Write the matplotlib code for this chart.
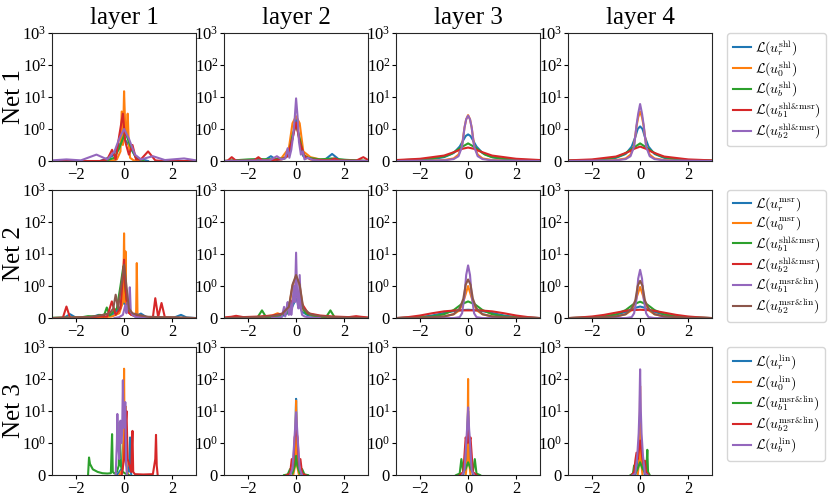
import matplotlib.pyplot as plt
from matplotlib.ticker import NullLocator

plt.rcParams['font.family'] = ['Liberation Serif', 'DejaVu Serif']
plt.rcParams['mathtext.fontset'] = 'cm'
plt.rcParams['axes.edgecolor'] = '0.15'

SM = r'\mathrm{shl&msr}'
ML = r'\mathrm{msr&lin}'

# legend labels per net
labels_net1 = [r'$\mathcal{L}(u_r^{\mathrm{shl}})$', r'$\mathcal{L}(u_0^{\mathrm{shl}})$',
               r'$\mathcal{L}(u_b^{\mathrm{shl}})$', r'$\mathcal{L}(u_{b1}^{' + SM + '})$',
               r'$\mathcal{L}(u_{b2}^{' + SM + '})$']
labels_net2 = [r'$\mathcal{L}(u_r^{\mathrm{msr}})$', r'$\mathcal{L}(u_0^{\mathrm{msr}})$',
               r'$\mathcal{L}(u_{b1}^{' + SM + '})$', r'$\mathcal{L}(u_{b2}^{' + SM + '})$',
               r'$\mathcal{L}(u_{b1}^{' + ML + '})$', r'$\mathcal{L}(u_{b2}^{' + ML + '})$']
labels_net3 = [r'$\mathcal{L}(u_r^{\mathrm{lin}})$', r'$\mathcal{L}(u_0^{\mathrm{lin}})$',
               r'$\mathcal{L}(u_{b1}^{' + ML + '})$', r'$\mathcal{L}(u_{b2}^{' + ML + '})$',
               r'$\mathcal{L}(u_b^{\mathrm{lin}})$']

# density curves: (x, y) per series, in legend order
net1_layer1 = [
    ([-1, -0.5, -0.2, 0, 0.2, 0.5, 1], [0, 0.15, 0.5, 0.7, 0.5, 0.1, 0]),
    ([-0.6, -0.3, -0.15, -0.1, -0.05, 0, 0.05, 0.1, 0.15, 0.2, 0.25, 0.4, 0.8],
     [0, 0.05, 0.3, 3.5, 0.5, 15, 1, 0.8, 3, 0.5, 0.1, 0.02, 0]),
    ([-0.8, -0.4, -0.2, 0.05, 0.3, 0.5, 0.8], [0, 0.1, 0.4, 0.9, 0.4, 0.1, 0]),
    ([-3, -1, -0.7, -0.5, -0.35, -0.2, -0.05, 0.05, 0.2, 0.35, 0.5, 0.7, 1.0, 1.3, 1.6, 3],
     [0, 0, 0.05, 0.35, 0.05, 0.8, 3.0, 0.6, 0.2, 0.5, 0.05, 0.05, 0.3, 0.02, 0, 0]),
    ([-3, -2.4, -1.8, -1.15, -0.7, -0.4, -0.2, 0, 0.2, 0.45, 0.7, 1.2, 1.7, 2.5, 3],
     [0.02, 0.05, 0.02, 0.2, 0.05, 0.3, 0.7, 1.0, 0.7, 0.2, 0.05, 0.15, 0.03, 0.08, 0.02]),
]
net1_layer2 = [
    ([-3, -2.2, -1.6, -1.3, -1.05, -0.8, -0.5, -0.3, -0.15, 0, 0.15, 0.3, 0.5, 0.8, 1.2, 1.5, 1.8, 2.4, 3],
     [0, 0.02, 0.05, 0.03, 0.15, 0.03, 0.08, 0.2, 0.7, 2.1, 0.6, 0.15, 0.1, 0.05, 0.04, 0.22, 0.04, 0.02, 0]),
    ([-3, -1.5, -1, -0.6, -0.3, -0.15, 0, 0.15, 0.3, 0.6, 1, 1.5, 3],
     [0, 0.02, 0.05, 0.1, 0.4, 1.5, 2.5, 1.5, 0.3, 0.12, 0.05, 0.02, 0]),
    ([-3, -2, -1.5, -1, -0.5, -0.3, -0.15, 0, 0.15, 0.3, 0.5, 1, 1.5, 2, 3],
     [0, 0.05, 0.06, 0.05, 0.08, 0.2, 0.8, 1.4, 0.7, 0.2, 0.1, 0.05, 0.08, 0.04, 0]),
    ([-3, -2.85, -2.68, -2.5, -2.0, -1.75, -1.57, -1.4, -1, -0.6, -0.35, -0.15, 0, 0.15, 0.35, 0.6,
      1, 1.4, 1.6, 1.8, 2.5, 2.8, 3],
     [0, 0.01, 0.12, 0.01, 0.01, 0.02, 0.12, 0.02, 0.03, 0.05, 0.15, 0.7, 1.6, 0.6, 0.15, 0.05,
      0.03, 0.02, 0.08, 0.02, 0.01, 0.12, 0.03]),
    ([-3, -1.1, -0.8, -0.6, -0.45, -0.35, -0.28, -0.2, -0.12, -0.06, 0, 0.06, 0.12, 0.2, 0.28, 0.35,
      0.5, 0.7, 1, 3],
     [0, 0.02, 0.15, 0.05, 0.08, 0.4, 0.1, 0.35, 0.8, 2, 9, 2.5, 0.6, 0.2, 0.3, 0.05,
      0.1, 0.03, 0.01, 0]),
]
net1_layer3 = [
    ([-3, -2, -1.5, -1, -0.6, -0.35, -0.2, -0.1, 0, 0.1, 0.2, 0.35, 0.6, 1, 1.5, 2, 3],
     [0.01, 0.03, 0.06, 0.12, 0.25, 0.45, 0.65, 0.78, 0.83, 0.78, 0.65, 0.45, 0.25, 0.12, 0.06, 0.03, 0.01]),
    ([-3, -2, -1, -0.6, -0.4, -0.25, -0.15, -0.08, 0, 0.08, 0.15, 0.25, 0.4, 0.6, 1, 2, 3],
     [0, 0.01, 0.03, 0.08, 0.2, 0.5, 1.1, 2.0, 2.7, 2.0, 1.1, 0.5, 0.2, 0.08, 0.03, 0.01, 0]),
    ([-3, -2, -1.5, -1.2, -1, -0.7, -0.3, 0, 0.3, 0.7, 1, 1.5, 2, 3],
     [0.02, 0.05, 0.08, 0.12, 0.14, 0.22, 0.42, 0.55, 0.42, 0.2, 0.12, 0.07, 0.04, 0.02]),
    ([-3, -2, -1, -0.5, -0.25, 0, 0.25, 0.5, 1, 2, 3],
     [0.03, 0.07, 0.17, 0.3, 0.38, 0.42, 0.38, 0.3, 0.17, 0.07, 0.03]),
    ([-3, -2, -1, -0.6, -0.4, -0.25, -0.15, -0.08, 0, 0.08, 0.15, 0.25, 0.4, 0.6, 1, 2, 3],
     [0, 0.01, 0.02, 0.06, 0.15, 0.45, 1.1, 2.0, 2.6, 2.0, 1.1, 0.45, 0.15, 0.06, 0.02, 0.01, 0]),
]
net1_layer4 = [
    ([-3, -2, -1.5, -1, -0.6, -0.35, -0.2, -0.1, 0, 0.1, 0.2, 0.35, 0.6, 1, 1.5, 2, 3],
     [0.01, 0.02, 0.04, 0.1, 0.22, 0.45, 0.75, 1.0, 1.2, 1.0, 0.75, 0.45, 0.22, 0.1, 0.04, 0.02, 0.01]),
    ([-3, -2, -1, -0.6, -0.4, -0.25, -0.15, -0.08, 0, 0.08, 0.15, 0.25, 0.4, 0.6, 1, 2, 3],
     [0, 0.01, 0.03, 0.08, 0.2, 0.5, 1.2, 2.3, 3.5, 2.3, 1.2, 0.5, 0.2, 0.08, 0.03, 0.01, 0]),
    ([-3, -2, -1.5, -1, -0.7, -0.3, 0, 0.3, 0.7, 1, 1.5, 2, 3],
     [0.01, 0.03, 0.06, 0.12, 0.2, 0.4, 0.55, 0.4, 0.2, 0.12, 0.06, 0.03, 0.01]),
    ([-3, -2, -1, -0.5, -0.25, 0, 0.25, 0.5, 1, 2, 3],
     [0.02, 0.05, 0.14, 0.28, 0.38, 0.45, 0.38, 0.28, 0.14, 0.05, 0.02]),
    ([-3, -2, -1, -0.6, -0.4, -0.25, -0.15, -0.08, 0, 0.08, 0.15, 0.25, 0.4, 0.6, 1, 2, 3],
     [0, 0.01, 0.02, 0.06, 0.15, 0.45, 1.3, 3.0, 6.0, 3.0, 1.3, 0.45, 0.15, 0.06, 0.02, 0.01, 0]),
]

net2_layer1 = [
    ([-3, -2.5, -2.25, -2.0, -1.4, -1.05, -0.8, -0.5, -0.2, 0, 0.2, 0.45, 0.7, 0.95, 1.5, 2.1, 2.37, 2.6, 3],
     [0, 0.01, 0.12, 0.01, 0.02, 0.1, 0.03, 0.1, 0.3, 0.5, 0.2, 0.05, 0.14, 0.02, 0.01, 0.02, 0.1, 0.02, 0]),
    ([-3, -1, -0.5, -0.2, -0.05, -0.02, 0, 0.02, 0.04, 0.06, 0.08, 0.15, 0.3, 0.5, 0.53, 0.56, 0.7, 1, 3],
     [0, 0.02, 0.05, 0.15, 0.5, 3, 44, 3, 0.5, 12, 0.5, 0.2, 0.1, 0.05, 5.2, 0.05, 0.02, 0.01, 0]),
    ([-3, -1.8, -1.5, -1.2, -1.0, -0.85, -0.72, -0.6, -0.45, -0.3, -0.15, -0.03, 0.1, 0.25, 0.5, 1, 2, 3],
     [0.01, 0.02, 0.06, 0.05, 0.1, 0.05, 0.33, 0.08, 0.2, 0.3, 1.0, 4.1, 0.6, 0.15, 0.05, 0.02, 0.01, 0]),
    ([-3, -2.55, -2.4, -2.25, -1.5, -1.0, -0.7, -0.51, -0.35, -0.15, -0.05, 0, 0.05, 0.15, 0.3, 0.6,
      1.0, 1.2, 1.3, 1.42, 1.56, 1.7, 2.2, 3],
     [0, 0.01, 0.36, 0.01, 0.02, 0.05, 0.05, 0.52, 0.1, 0.3, 2, 6.6, 1, 0.2, 0.1, 0.05,
      0.02, 0.02, 0.62, 0.03, 0.47, 0.02, 0.01, 0]),
    ([-0.4, -0.2, -0.05, 0.05, 0.1, 0.15, 0.2, 0.24, 0.28, 0.35, 0.5, 1],
     [0, 0.03, 0.1, 0.4, 0.15, 0.5, 0.3, 0.96, 0.2, 0.1, 0.03, 0]),
    ([-3, -1.5, -1, -0.6, -0.45, -0.35, -0.25, -0.12, 0, 0.1, 0.2, 0.35, 0.6, 1, 3],
     [0, 0.03, 0.08, 0.15, 0.3, 0.73, 0.3, 1.0, 4.6, 1.0, 0.3, 0.15, 0.1, 0.04, 0]),
]
net2_layer2 = [
    ([-3, -2, -1, -0.5, -0.25, -0.1, 0, 0.1, 0.25, 0.5, 1, 2, 3],
     [0, 0.02, 0.05, 0.08, 0.2, 0.45, 0.6, 0.45, 0.2, 0.08, 0.05, 0.02, 0]),
    ([-3, -1.5, -1, -0.77, -0.6, -0.3, -0.15, 0, 0.15, 0.3, 0.6, 1, 3],
     [0, 0.03, 0.08, 0.15, 0.1, 0.3, 1.0, 2.0, 1.0, 0.25, 0.1, 0.04, 0]),
    ([-3, -2, -1.6, -1.42, -1.25, -0.8, -0.4, -0.15, 0, 0.15, 0.4, 0.8, 1.25, 1.43, 1.6, 2, 3],
     [0, 0.02, 0.03, 0.24, 0.03, 0.06, 0.15, 0.5, 0.8, 0.5, 0.15, 0.06, 0.03, 0.24, 0.03, 0.02, 0]),
    ([-3, -2.7, -2.5, -2.2, -1.5, -1, -0.5, -0.2, 0, 0.2, 0.5, 1, 1.5, 2.2, 2.5, 2.7, 3],
     [0.02, 0.04, 0.07, 0.03, 0.05, 0.08, 0.15, 0.5, 0.72, 0.5, 0.15, 0.08, 0.05, 0.03, 0.06, 0.04, 0.02]),
    ([-1, -0.6, -0.5, -0.45, -0.4, -0.35, -0.3, -0.25, -0.2, -0.15, -0.1, -0.05, 0, 0.05, 0.1, 0.15,
      0.2, 0.25, 0.35, 0.6, 1],
     [0, 0.02, 0.35, 0.05, 0.3, 0.5, 0.1, 0.56, 0.1, 0.4, 1.0, 0.5, 11, 0.5, 0.3, 2.2,
      0.3, 0.1, 0.05, 0.01, 0]),
    ([-3, -1.5, -1, -0.6, -0.3, -0.15, 0, 0.15, 0.3, 0.6, 1, 1.5, 3],
     [0, 0.03, 0.06, 0.12, 0.35, 1.1, 2.2, 1.1, 0.3, 0.12, 0.06, 0.03, 0]),
]
net2_layer3 = [
    ([-3, -2, -1.5, -1, -0.5, -0.2, 0, 0.2, 0.5, 1, 1.5, 2, 3],
     [0, 0.03, 0.08, 0.16, 0.23, 0.25, 0.26, 0.25, 0.23, 0.16, 0.08, 0.03, 0]),
    ([-3, -2, -1, -0.6, -0.4, -0.25, -0.12, 0, 0.12, 0.25, 0.4, 0.6, 1, 2, 3],
     [0, 0.01, 0.05, 0.12, 0.22, 0.4, 0.7, 1.0, 0.7, 0.4, 0.22, 0.12, 0.05, 0.01, 0]),
    ([-3, -2, -1.5, -1, -0.6, -0.3, 0, 0.3, 0.6, 1, 1.5, 2, 3],
     [0, 0.02, 0.05, 0.12, 0.25, 0.42, 0.52, 0.42, 0.25, 0.12, 0.05, 0.02, 0]),
    ([-3, -2.5, -2, -1.5, -1, -0.5, 0, 0.5, 1, 1.5, 2, 2.5, 3],
     [0, 0.03, 0.08, 0.15, 0.21, 0.24, 0.24, 0.24, 0.21, 0.15, 0.08, 0.03, 0]),
    ([-3, -0.6, -0.35, -0.25, -0.15, -0.08, 0, 0.08, 0.15, 0.25, 0.35, 0.6, 3],
     [0, 0, 0.03, 0.15, 0.7, 2.2, 4.4, 2.2, 0.7, 0.15, 0.03, 0, 0]),
    ([-3, -2, -1, -0.6, -0.35, -0.2, -0.1, 0, 0.1, 0.2, 0.35, 0.6, 1, 2, 3],
     [0, 0.01, 0.05, 0.12, 0.3, 0.6, 1.1, 1.6, 1.1, 0.6, 0.3, 0.12, 0.05, 0.01, 0]),
]
net2_layer4 = [
    ([-3, -2, -1.5, -1, -0.5, -0.2, 0, 0.2, 0.5, 1, 1.5, 2, 3],
     [0, 0.02, 0.05, 0.1, 0.22, 0.32, 0.36, 0.32, 0.22, 0.1, 0.05, 0.02, 0]),
    ([-3, -2, -1, -0.6, -0.4, -0.25, -0.12, 0, 0.12, 0.25, 0.4, 0.6, 1, 2, 3],
     [0, 0.01, 0.05, 0.12, 0.22, 0.4, 0.7, 0.97, 0.7, 0.4, 0.22, 0.12, 0.05, 0.01, 0]),
    ([-3, -2, -1.5, -1, -0.6, -0.3, 0, 0.3, 0.6, 1, 1.5, 2, 3],
     [0, 0.02, 0.05, 0.12, 0.25, 0.42, 0.51, 0.42, 0.25, 0.12, 0.05, 0.02, 0]),
    ([-3, -2.5, -2, -1.5, -1, -0.5, 0, 0.5, 1, 1.5, 2, 2.5, 3],
     [0, 0.02, 0.05, 0.1, 0.17, 0.24, 0.26, 0.24, 0.17, 0.1, 0.05, 0.02, 0]),
    ([-3, -0.6, -0.35, -0.25, -0.15, -0.08, 0, 0.08, 0.15, 0.25, 0.35, 0.6, 3],
     [0, 0, 0.03, 0.15, 0.6, 1.7, 3.2, 1.7, 0.6, 0.15, 0.03, 0, 0]),
    ([-3, -2, -1, -0.6, -0.35, -0.2, -0.1, 0, 0.1, 0.2, 0.35, 0.6, 1, 2, 3],
     [0, 0.01, 0.05, 0.12, 0.3, 0.55, 1.0, 1.45, 1.0, 0.55, 0.3, 0.12, 0.05, 0.01, 0]),
]

net3_layer1 = [
    ([-0.3, -0.1, 0, 0.05, 0.1, 0.2, 0.23, 0.25, 0.27, 0.3],
     [0, 0.2, 2, 0.5, 0.3, 0.1, 0.5, 1.5, 0.3, 0]),
    ([-0.2, -0.05, -0.02, 0, 0.02, 0.05, 0.07, 0.09, 0.12, 0.2],
     [0, 0.2, 2, 209, 2, 1, 13.8, 1, 0.1, 0]),
    ([-1.5, -1.46, -1.42, -1.3, -1.1, -0.9, -0.7, -0.55, -0.5, -0.47, -0.4, -0.3, -0.22, -0.18, -0.14,
      -0.05, 0.05, 0.2],
     [0, 0.55, 0.35, 0.18, 0.1, 0.06, 0.05, 0.06, 1.9, 0.1, 0.05, 0.1, 0.3, 4.5, 0.3,
      0.1, 0.05, 0]),
    ([-0.1, 0, 0.05, 0.1, 0.15, 0.3, 0.33, 0.35, 0.38, 0.45, 0.8, 1.2, 1.3, 1.33, 1.36, 1.4],
     [0, 0.5, 2, 10, 0.5, 0.1, 1, 2.4, 0.1, 0.03, 0.02, 0.03, 0.5, 1.8, 0.3, 0]),
    ([-0.35, -0.3, -0.28, -0.25, -0.2, -0.15, -0.12, -0.08, -0.05, -0.02, 0, 0.03, 0.05, 0.08, 0.12],
     [0, 1, 8.1, 1, 0.5, 5, 1, 2, 91, 3, 10, 5, 19, 0.5, 0]),
]
net3_layer2 = [
    ([-0.15, -0.05, -0.02, 0, 0.02, 0.05, 0.15], [0, 0.5, 5, 24, 5, 0.5, 0]),
    ([-0.12, -0.04, -0.015, 0, 0.015, 0.04, 0.12], [0, 0.3, 4, 21, 4, 0.3, 0]),
    ([-0.5, -0.35, -0.25, -0.15, -0.05, 0, 0.05, 0.15, 0.25, 0.35, 0.5],
     [0, 0.02, 0.19, 0.05, 0.3, 0.6, 0.3, 0.05, 0.19, 0.02, 0]),
    ([-0.4, -0.25, -0.18, -0.12, -0.06, 0, 0.06, 0.12, 0.18, 0.25, 0.4],
     [0, 0.05, 0.5, 0.3, 1.5, 2.5, 1.5, 0.3, 0.5, 0.05, 0]),
    ([-0.25, -0.15, -0.08, -0.04, 0, 0.04, 0.08, 0.15, 0.25], [0, 0.2, 1, 3, 9.2, 3, 1, 0.2, 0]),
]
net3_layer3 = [
    ([-0.2, -0.08, -0.03, 0, 0.03, 0.08, 0.2], [0, 0.5, 3, 10, 3, 0.5, 0]),
    ([-0.1, -0.03, -0.01, 0, 0.01, 0.03, 0.1], [0, 0.5, 10, 100, 10, 0.5, 0]),
    ([-0.5, -0.35, -0.28, -0.2, -0.1, 0, 0.1, 0.2, 0.28, 0.35, 0.5],
     [0, 0.05, 0.5, 0.1, 0.2, 0.4, 0.2, 0.1, 0.5, 0.05, 0]),
    ([-0.35, -0.2, -0.1, -0.05, 0, 0.05, 0.1, 0.2, 0.35], [0, 0.1, 1.5, 1, 2.5, 1, 1.5, 0.1, 0]),
    ([-0.25, -0.15, -0.08, -0.04, 0, 0.04, 0.08, 0.15, 0.25], [0, 0.15, 1, 3, 13, 3, 1, 0.15, 0]),
]
net3_layer4 = [
    ([-0.2, -0.08, -0.03, 0, 0.03, 0.08, 0.2], [0, 0.4, 2, 8, 2, 0.4, 0]),
    ([-0.1, -0.03, -0.01, 0, 0.01, 0.03, 0.1], [0, 0.5, 5, 60, 5, 0.5, 0]),
    ([-0.4, -0.3, -0.25, -0.2, -0.1, 0, 0.1, 0.2, 0.27, 0.3, 0.33, 0.4],
     [0, 0.05, 0.3, 0.05, 0.2, 0.4, 0.2, 0.1, 0.3, 0.79, 0.1, 0]),
    ([-0.35, -0.25, -0.2, -0.15, -0.1, 0, 0.1, 0.15, 0.2, 0.25, 0.35],
     [0, 0.1, 0.45, 0.7, 0.5, 1.2, 0.5, 0.3, 0.45, 0.1, 0]),
    ([-0.3, -0.2, -0.12, -0.06, -0.03, 0, 0.03, 0.06, 0.12, 0.2, 0.3],
     [0, 0.05, 0.6, 2, 10, 200, 10, 2, 0.6, 0.05, 0]),
]

rows = [
    (labels_net1, [net1_layer1, net1_layer2, net1_layer3, net1_layer4]),
    (labels_net2, [net2_layer1, net2_layer2, net2_layer3, net2_layer4]),
    (labels_net3, [net3_layer1, net3_layer2, net3_layer3, net3_layer4]),
]

fig, axes = plt.subplots(3, 4, figsize=(8.3, 4.97), dpi=100)
fig.subplots_adjust(left=0.0627, right=0.858, bottom=0.044, top=0.934, wspace=0.194, hspace=0.225)

for i, (labels, layers) in enumerate(rows):
    for j, curves in enumerate(layers):
        ax = axes[i, j]
        for k, (xs, ys) in enumerate(curves):
            ax.plot(xs, ys, color='C%d' % k, lw=1.5, label=labels[k])
        ax.set_yscale('symlog', linthresh=1, linscale=0.9)
        ax.set_ylim(0, 1000)
        ax.set_xlim(-3, 3)
        ax.set_xticks([-2, 0, 2])
        ax.set_yticks([0, 1, 10, 100, 1000])
        ax.yaxis.set_minor_locator(NullLocator())
        ax.tick_params(labelsize=12, length=3, pad=1)
        if i == 0:
            ax.set_title('layer %d' % (j + 1), fontsize=18)
        if j == 0:
            ax.set_ylabel('Net %d' % (i + 1), fontsize=18)
            ax.yaxis.set_label_coords(-0.19, 0.5)
    axes[i, 3].legend(loc='upper left', bbox_to_anchor=(1.103, 1.0), borderaxespad=0,
                      fontsize=10, handlelength=1.3, handletextpad=0.3,
                      labelspacing=0.1, borderpad=0.4)

fig.savefig('out.png', dpi=100)
